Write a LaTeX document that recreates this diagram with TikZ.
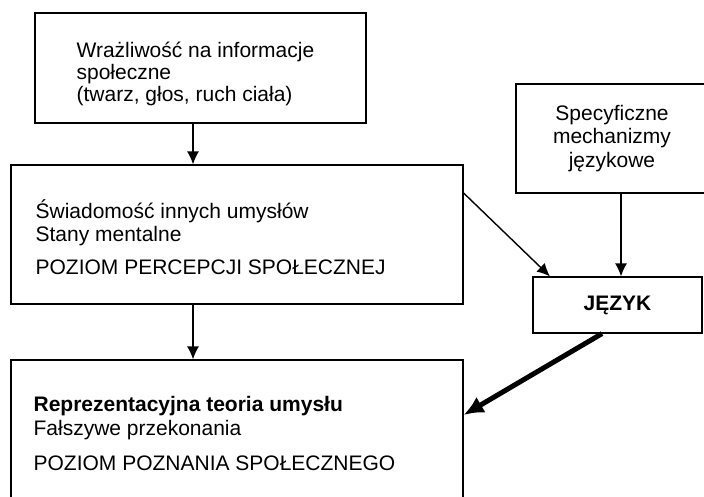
\documentclass[tikz,border=0pt]{standalone}
\usepackage{fontspec}
\setmainfont{Liberation Sans}
\usetikzlibrary{arrows.meta}

\tikzset{
  box/.style={draw, line width=1.2pt, inner sep=0pt},
  txt/.style={anchor=north west, align=left, inner sep=0pt},
  arr/.style={-{Latex[length=13pt,width=12pt]}, line width=1.4pt},
  thickarr/.style={-{Latex[length=20pt,width=18pt]}, line width=5pt},
}

\begin{document}
\begin{tikzpicture}[x=1pt,y=-1pt]
  \useasboundingbox (0,0) rectangle (704,496);
  \clip (0,0) rectangle (704,496);
  % boxes
  \node[box, minimum width=331pt, minimum height=110pt] (wraz) at (200.5,68) {};
  \node[box, minimum width=452pt, minimum height=139pt] (swiad) at (237,234.5) {};
  \node[box, minimum width=192pt, minimum height=109pt, align=center,
    font=\fontsize{21}{23.5}\selectfont] (mech) at (612,138.5)
    {Specyficzne\\mechanizmy\\językowe};
  \node[box, minimum width=169pt, minimum height=56pt,
    font=\fontsize{21}{24}\selectfont\bfseries] (jezyk) at (617.5,305) {JĘZYK};
  \node[box, minimum width=452pt, minimum height=142pt] (pozn) at (237,431) {};
  % texts
  \node[txt, font=\fontsize{21}{22}\selectfont] (wrazt) at ([shift={(42,29.5)}]wraz.north west)
    {Wrażliwość na informacje\\społeczne\\(twarz, głos, ruch ciała)};
  \node[txt, font=\fontsize{21}{23.5}\selectfont] (swiadt) at ([shift={(25,35)}]swiad.north west)
    {Świadomość innych umysłów\\Stany mentalne\\[9pt]POZIOM PERCEPCJI SPOŁECZNEJ};
  \node[txt, font=\fontsize{21}{24}\selectfont] (poznt) at ([shift={(23,37)}]pozn.north west)
    {\textbf{Reprezentacyjna teoria umysłu}\\Fałszywe przekonania\\[11pt]POZIOM POZNANIA SPOŁECZNEGO};
  % connectors
  \coordinate (ax) at (193,0);
  \coordinate (bx) at (621,0);
  \coordinate (cy) at (0,193);
  \coordinate (cx) at (550,0);
  \coordinate (dx) at (602,0);
  \coordinate (dy) at (0,415);
  \draw[arr] (wraz.south -| ax) -- (swiad.north -| ax);
  \draw[arr] (swiad.south -| ax) -- (pozn.north -| ax);
  \draw[arr] (mech.south -| bx) -- (jezyk.north -| bx);
  \draw[arr] (swiad.east |- cy) -- (jezyk.north -| cx);
  \draw[thickarr] (jezyk.south -| dx) -- (pozn.east |- dy);
\end{tikzpicture}
\end{document}
